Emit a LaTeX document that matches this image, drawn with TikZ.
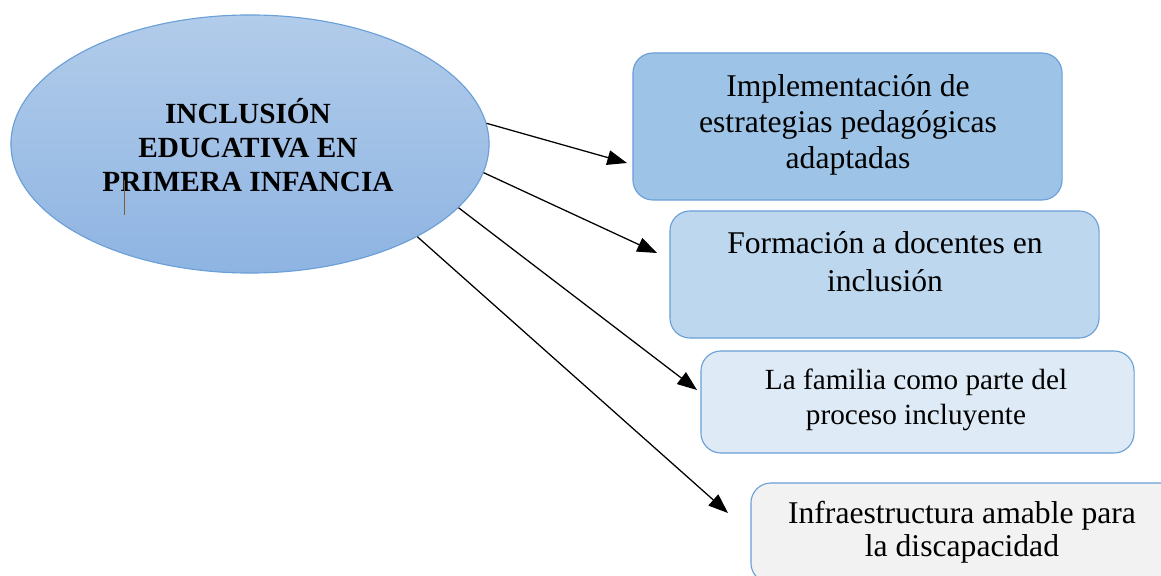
\documentclass[tikz,border=0pt]{standalone}
\usepackage{fontspec}
\setmainfont{Liberation Serif}
\usepackage{xcolor}
\usepackage{tikz}
\usetikzlibrary{shapes.geometric,arrows.meta}

\definecolor{edgeblue}{HTML}{6A9FD8}
\definecolor{ovaltop}{HTML}{B2CCEA}
\definecolor{ovalbot}{HTML}{8EB4E2}
\definecolor{fillA}{HTML}{9DC3E6}
\definecolor{fillB}{HTML}{BDD7EE}
\definecolor{fillC}{HTML}{DEEBF7}
\definecolor{fillD}{HTML}{F2F2F2}
\definecolor{cursorbrown}{HTML}{7B5B3A}

\tikzset{
    box/.style={draw=edgeblue, line width=0.8pt, rounded corners=0.5cm, inner sep=0pt},
    txt/.style={align=center, inner sep=0pt, text=black},
    arr/.style={line width=0.9pt, -{Triangle[length=14pt,width=10.5pt]}}
}

\begin{document}
\begin{tikzpicture}[x=0.025cm, y=-0.025cm]
            \useasboundingbox (0,0) rectangle (1161,576);
            \clip (0,0) rectangle (1161,576);
            \node (incl) at (250, 144) [ellipse, draw=edgeblue, line width=0.8pt, top color=ovaltop, bottom color=ovalbot, minimum width=11.95cm, minimum height=6.45cm, inner sep=0pt] {};
            \node (incltxt) at (248, 145) [txt, font=\fontsize{20.8}{24}\selectfont\bfseries] {INCLUSIÓN\\EDUCATIVA EN\\PRIMERA INFANCIA};
            \draw [cursorbrown, line width=0.6pt] (124.7, 180) -- (124.7, 215);
            \node (estr) at (847.5, 126.5) [box, fill=fillA, minimum width=10.725cm, minimum height=3.675cm] {};
            \node (estrtxt) at (848, 125) [txt, font=\fontsize{22.5}{25.8}\selectfont] {Implementación de\\estrategias pedagógicas\\adaptadas};
            \node (form) at (884.5, 274.5) [box, fill=fillB, minimum width=10.725cm, minimum height=3.175cm] {};
            \node (formtxt) at (885, 262) [txt, font=\fontsize{22.5}{27}\selectfont] {Formación a docentes en\\inclusión};
            \node (fam) at (917.5, 402) [box, fill=fillC, minimum width=10.825cm, minimum height=2.55cm] {};
            \node (famtxt) at (916, 400) [txt, font=\fontsize{20.8}{24.9}\selectfont] {La familia como parte del\\proceso incluyente};
            \node (infra) at (966, 533) [box, fill=fillD, minimum width=10.75cm, minimum height=2.5cm] {};
            \node (infratxt) at (962, 532) [txt, font=\fontsize{22.5}{23.5}\selectfont] {Infraestructura amable para\\la discapacidad};
            \coordinate (t1) at (627, 163);
            \coordinate (t2) at (657, 253);
            \coordinate (t3) at (697, 390);
            \coordinate (t4) at (728, 513);
            \draw [arr] (incl.5.6) -- (t1);
            \draw [arr] (incl.-7.1) -- (t2);
            \draw [arr] (incl.-17.3) -- (t3);
            \draw [arr] (incl.-29.6) -- (t4);
        \end{tikzpicture}
\end{document}
